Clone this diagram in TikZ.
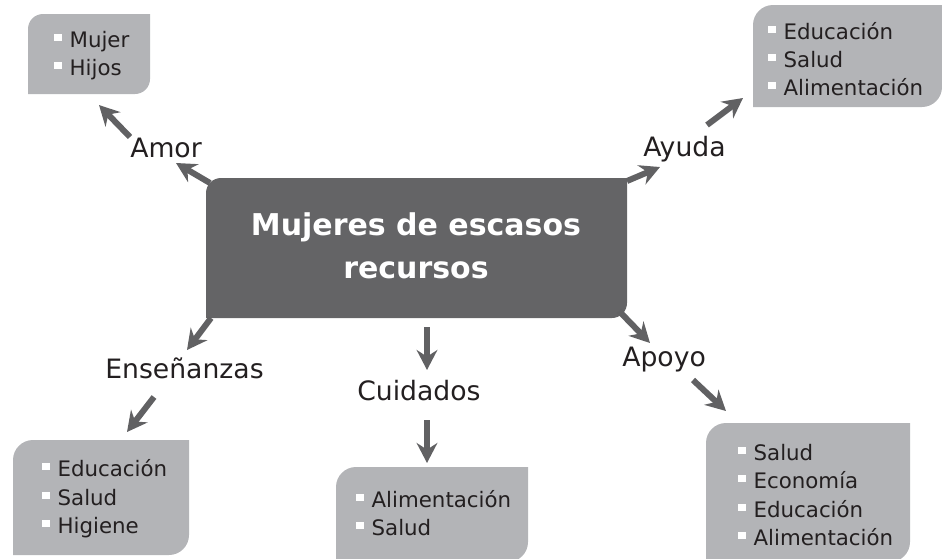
\documentclass[tikz,border=0pt]{standalone}
\usepackage{fontspec}
\setmainfont{DejaVu Sans}
\usetikzlibrary{arrows.meta}
\definecolor{boxdark}{HTML}{646466}
\definecolor{boxlight}{HTML}{B3B4B7}
\definecolor{arrowgray}{HTML}{616163}
\definecolor{textdark}{HTML}{231F20}
\newcommand\sqbullet{\textcolor{white}{\rule[0.27em]{0.34em}{0.34em}}\hspace{0.38em}}
\begin{document}
\begin{tikzpicture}
[x=0.75pt,y=-0.75pt,
  leafdecorate/.style={fill=boxlight},
  centerdecorate/.style={fill=boxdark},
  titledecorate/.style={font=\fontsize{22.5}{32}\bfseries\selectfont,text=white,align=center,inner sep=0pt},
  labeldecorate/.style={font=\fontsize{20}{24}\selectfont,text=textdark,anchor=base west,inner sep=0pt},
  itemdecorate/.style={font=\fontsize{16}{21}\selectfont,text=textdark,anchor=base west,inner sep=0pt},
  arrowdecorate/.style={-{Stealth[length=15pt,width=15.5pt,inset=5pt]},line width=4.5pt,draw=arrowgray}]
\useasboundingbox (0,0) rectangle (942,558);
%% central box
\fill[centerdecorate] (206,318) -- (206,193) arc[start angle=180,end angle=270,radius=15]
  -- (627,178) -- (627,303) arc[start angle=0,end angle=90,radius=15] -- cycle;
\node (mujeres) at (416,246) [titledecorate] {Mujeres de escasos\\recursos};
%% leaf boxes
\foreach \x/\y/\X/\Y/\r in {28/14/150/94/15, 753/5/942/107/20, 13/440/189/555/20,
  336/467/528/562/20, 706/423/910/562/20} {
  \fill[leafdecorate] (\x,\Y) -- (\x,\y+\r) arc[start angle=180,end angle=270,radius=\r]
    -- (\X,\y) -- (\X,\Y-\r) arc[start angle=0,end angle=90,radius=\r] -- cycle;
}
%% labels
\foreach \nodename/\x/\y/\txt in {amor/130/157/Amor, ayuda/643/156/Ayuda,
  ensenanzas/105/378/Enseñanzas, cuidados/357/400/Cuidados, apoyo/622/366/Apoyo} {
  \node (\nodename) at (\x,\y) [labeldecorate] {\txt};
}
%% list items
\foreach \nodename/\x/\y/\txt in {amor1/54/47/Mujer, amor2/54/75/Hijos,
  ayuda1/768/39/Educación, ayuda2/768/67/Salud, ayuda3/768/95/Alimentación,
  ense1/42/476/Educación, ense2/42/505/Salud, ense3/42/533/Higiene,
  cuid1/356/507/Alimentación, cuid2/356/535/Salud,
  apoyo1/738/460/Salud, apoyo2/738/488/Economía, apoyo3/738/517/Educación, apoyo4/738/545/Alimentación} {
  \node (\nodename) at (\x,\y) [itemdecorate] {\sqbullet\txt};
}
%% arrow ends
\foreach \nodename/\x/\y in {t1/210/183, h1/176/163, t2/130/137, h2/99/105,
  t3/627/181, h3/660/167, t4/707/125, h4/743/98,
  t5/211/318, h5/187/350, t6/154/397, h6/127/432,
  t7/427/327, h7/427/370, t8/427/420, h8/427/463,
  t9/619/311, h9/650/343, t10/693/380, h10/726/411} {
  \coordinate (\nodename) at (\x,\y);
}
%% arrows
\path
(t1) edge[arrowdecorate] (h1)
(t2) edge[arrowdecorate] (h2)
(t3) edge[arrowdecorate] (h3)
(t4) edge[arrowdecorate] (h4)
(t5) edge[arrowdecorate] (h5)
(t6) edge[arrowdecorate] (h6)
(t7) edge[arrowdecorate] (h7)
(t8) edge[arrowdecorate] (h8)
(t9) edge[arrowdecorate] (h9)
(t10) edge[arrowdecorate] (h10);
\end{tikzpicture}
\end{document}
